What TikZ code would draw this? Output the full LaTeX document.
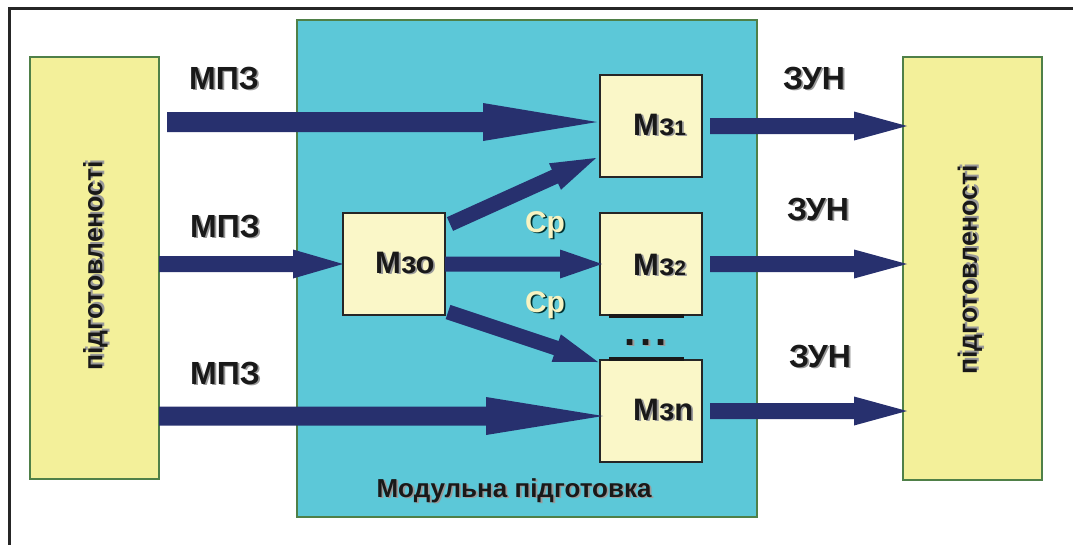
\documentclass[tikz,border=0pt]{standalone}
\usepackage{fontspec}
\setmainfont{Liberation Sans}
\usetikzlibrary{calc}
\definecolor{navy}{HTML}{27306E}
\definecolor{cyanbg}{HTML}{5CC8D8}
\definecolor{yel}{HTML}{F3F09A}
\definecolor{modfill}{HTML}{FAF7C8}
\definecolor{gborder}{HTML}{4F8048}
\definecolor{crtext}{HTML}{F7F3C2}
% fat arrow: #1 tail, #2 tip, #3 half shaft width, #4 half head width, #5 head length
\newcommand\fatarrow[5]{%
  \coordinate (fah) at ($(#2)!#5!(#1)$);
  \fill[navy] ($(#1)!#3!90:(#2)$) -- ($(fah)!#3!90:(#2)$) -- ($(fah)!#4!90:(#2)$) -- (#2)
     -- ($(fah)!#4!-90:(#2)$) -- ($(fah)!#3!-90:(#2)$) -- ($(#1)!#3!-90:(#2)$) -- cycle;}
% text with drop shadow: #1 name, #2 position, #3 style, #4 text
\newcommand\stxt[4]{%
  \node[#3, shadowc, xshift=1.8pt, yshift=-1.8pt] (#1s) at (#2) {#4};
  \node[#3] (#1) at (#2) {#4};}
\begin{document}
\begin{tikzpicture}[x=1pt,y=-1pt,
  ybox/.style={draw=gborder, line width=1.5pt, fill=yel, inner sep=0},
  cbox/.style={draw=gborder, line width=1.5pt, fill=cyanbg, inner sep=0},
  mbox/.style={draw=black!85, line width=2pt, fill=modfill, inner sep=0,
    minimum width=102pt, minimum height=102pt},
  big/.style={font=\fontsize{32}{36}\selectfont\bfseries, text=black!90, anchor=base, inner sep=0},
  dotsty/.style={font=\fontsize{40}{44}\selectfont\bfseries, text=black!90, anchor=base, inner sep=0},
  crs/.style={font=\fontsize{30}{34}\selectfont\bfseries, text=crtext, anchor=base, inner sep=0},
  mlab/.style={font=\fontsize{31}{34}\selectfont\bfseries, text=black!90, anchor=base west, inner sep=0},
  bottomlab/.style={font=\fontsize{26}{29}\selectfont\bfseries, text=black!90, anchor=base, inner sep=0},
  vert/.style={font=\fontsize{26.5}{29}\selectfont\bfseries, text=black!90, rotate=90, inner sep=0},
  shadowc/.style={text=black!40}]
\useasboundingbox (0,0) rectangle (1073,544);
% outer frame (left and top)
\draw[line width=3pt, black!85] (9,548) -- (9,8) -- (1077,8);
% main boxes
\node[ybox, minimum width=129pt, minimum height=422pt] (lbox) at (94.5,268) {};
\node[cbox, minimum width=460pt, minimum height=497pt] (cbox) at (527,268.5) {};
\node[ybox, minimum width=139pt, minimum height=423pt] (rbox) at (972.5,268.5) {};
% module boxes
\node[mbox] (m1) at (651,126) {};
\node[mbox] (m0) at (394,264) {};
\node[mbox] (m2) at (651,264) {};
\node[mbox] (mn) at (651,411) {};
\draw[line width=3.5pt, black!90] ($(m2.south west)+(10,0)$) coordinate (m2a) -- ($(m2.south east)+(-19,0)$) coordinate (m2b);
\draw[line width=3.5pt, black!90] ($(mn.north west)+(10,0)$) coordinate (mna) -- ($(mn.north east)+(-19,0)$) coordinate (mnb);
% arrow end points
\coordinate (a1t) at (167,122);  \coordinate (a1h) at (597,122);
\coordinate (a2t) at (159,264);  \coordinate (a2h) at (343,264);
\coordinate (a3t) at (159,416);  \coordinate (a3h) at (603,416);
\coordinate (d1t) at (450,224);  \coordinate (d1h) at (596,158);
\coordinate (d2t) at (445,264);  \coordinate (d2h) at (602,264);
\coordinate (d3t) at (448,312);  \coordinate (d3h) at (598,362);
\coordinate (r1t) at (710,126);  \coordinate (r1h) at (907,126);
\coordinate (r2t) at (710,264);  \coordinate (r2h) at (907,264);
\coordinate (r3t) at (710,411);  \coordinate (r3h) at (907,411);
% arrows
\fatarrow{a1t}{a1h}{10pt}{19pt}{114pt}
\fatarrow{a2t}{a2h}{8pt}{14.5pt}{50pt}
\fatarrow{a3t}{a3h}{9.5pt}{19pt}{117pt}
\fatarrow{d1t}{d1h}{7.5pt}{14.5pt}{45pt}
\fatarrow{d2t}{d2h}{7.5pt}{14.5pt}{42pt}
\fatarrow{d3t}{d3h}{7.5pt}{14.5pt}{44pt}
\fatarrow{r1t}{r1h}{8pt}{14.5pt}{53pt}
\fatarrow{r2t}{r2h}{8pt}{14.5pt}{53pt}
\fatarrow{r3t}{r3h}{8pt}{14.5pt}{53pt}
% labels
\stxt{mpz1}{224,89}{big}{МПЗ}
\stxt{mpz2}{225,237}{big}{МПЗ}
\stxt{mpz3}{225,384}{big}{МПЗ}
\stxt{zun1}{814,89}{big}{ЗУН}
\stxt{zun2}{818,220}{big}{ЗУН}
\stxt{zun3}{820,367}{big}{ЗУН}
\node[crs, text=black!60!teal, xshift=1.8pt, yshift=-1.8pt] (cr1s) at (545,232) {Ср};
\node[crs] (cr1) at (545,232) {Ср};
\node[crs, text=black!60!teal, xshift=1.8pt, yshift=-1.8pt] (cr2s) at (545,312) {Ср};
\node[crs] (cr2) at (545,312) {Ср};
\stxt{l1}{633,135}{mlab}{М\fontsize{31}{34}\selectfont з{\fontsize{21}{24}\selectfont 1}}
\stxt{l0}{375,273}{mlab}{Мзо}
\stxt{l2}{633,275}{mlab}{М\fontsize{31}{34}\selectfont з{\fontsize{21}{24}\selectfont 2}}
\stxt{ln}{633,420}{mlab}{Мзn}
\stxt{dots}{646,345}{dotsty}{.\hspace{4.4pt}.\hspace{4.4pt}.}
\stxt{modl}{514,497}{bottomlab}{Модульна підготовка}
\stxt{vl}{95.5,266}{vert}{підготовленості}
\stxt{vr}{970,270}{vert}{підготовленості}
\end{tikzpicture}
\end{document}
